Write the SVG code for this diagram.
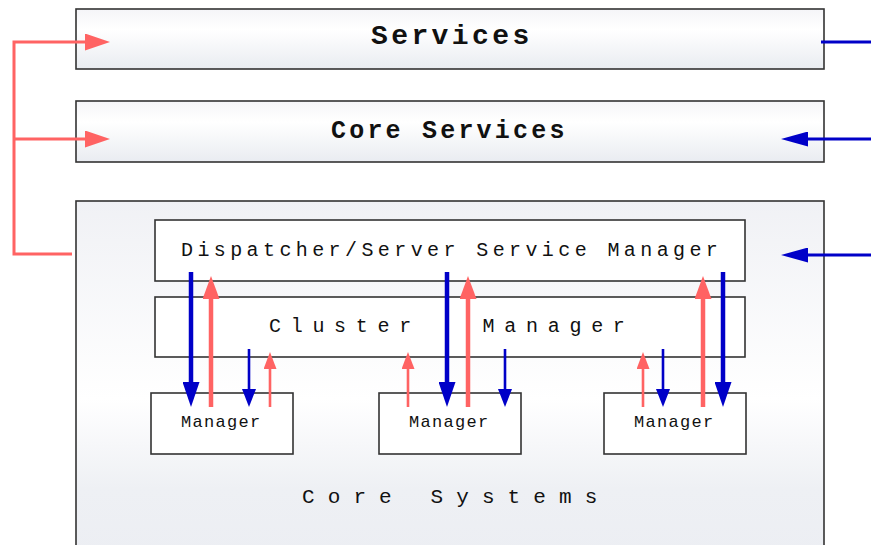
<svg xmlns="http://www.w3.org/2000/svg" width="871" height="545" viewBox="0 0 871 545">
  <style>
    .layer { stroke: #333; stroke-width: 1.6; }
    .inner { fill: #fff; stroke: #333; stroke-width: 1.6; }
    .t { font-family: "Liberation Mono", "Courier New", monospace; fill: #111; }
    .mgr { font-size: 17px; letter-spacing: 1.3px; }
    .red { stroke: #ff6363; fill: none; }
    .blue { stroke: #0000c8; fill: none; }
    .thick { stroke-width: 4.5; }
    .thin { stroke-width: 2.6; }
  </style>
  <defs>
    <linearGradient id="gBand" x1="0" y1="0" x2="0" y2="1">
      <stop offset="0" stop-color="#f5f5f8"/>
      <stop offset="0.35" stop-color="#ffffff"/>
      <stop offset="1" stop-color="#e9ecf1"/>
    </linearGradient>
    <linearGradient id="gCore" x1="0" y1="0" x2="0" y2="1">
      <stop offset="0" stop-color="#f0f1f5"/>
      <stop offset="0.55" stop-color="#ffffff"/>
      <stop offset="0.8" stop-color="#eef0f4"/>
      <stop offset="1" stop-color="#eceef3"/>
    </linearGradient>
    <marker id="hBlueBig" markerUnits="userSpaceOnUse" markerWidth="25" markerHeight="17" refX="0" refY="8.5" orient="auto">
      <path d="M0,0 L25,8.5 L0,17 z" fill="#0000c8"/>
    </marker>
    <marker id="hRedBig" markerUnits="userSpaceOnUse" markerWidth="23" markerHeight="17" refX="0" refY="8.5" orient="auto">
      <path d="M0,0 L23,8.5 L0,17 z" fill="#ff6363"/>
    </marker>
    <marker id="hBlueSmall" markerUnits="userSpaceOnUse" markerWidth="18" markerHeight="14" refX="0" refY="7" orient="auto">
      <path d="M0,0 L18,7 L0,14 z" fill="#0000c8"/>
    </marker>
    <marker id="hRedSmall" markerUnits="userSpaceOnUse" markerWidth="17" markerHeight="13" refX="0" refY="6.5" orient="auto">
      <path d="M0,0 L17,6.5 L0,13 z" fill="#ff6363"/>
    </marker>
    <marker id="hRedSide" markerUnits="userSpaceOnUse" markerWidth="25" markerHeight="17" refX="0" refY="8.5" orient="auto">
      <path d="M0,0 L25,8.5 L0,17 z" fill="#ff6363"/>
    </marker>
    <marker id="hBlueSide" markerUnits="userSpaceOnUse" markerWidth="27" markerHeight="15" refX="0" refY="7.5" orient="auto">
      <path d="M0,0 L27,7.5 L0,15 z" fill="#0000c8"/>
    </marker>
  </defs>

  <rect width="871" height="545" fill="#ffffff"/>

  <!-- layer bands -->
  <g id="services">
    <rect class="layer" x="76" y="9" width="748" height="60" fill="url(#gBand)"/>
    <text class="t" x="371" y="44" font-size="28" font-weight="bold" letter-spacing="3.4">Services</text>
  </g>
  <g id="core-services">
    <rect class="layer" x="76" y="101" width="748" height="61" fill="url(#gBand)"/>
    <text class="t" x="331" y="138" font-size="25" font-weight="bold" letter-spacing="3.2">Core Services</text>
  </g>
  <g id="core-systems">
    <rect class="layer" x="76" y="201" width="748" height="360" fill="url(#gCore)"/>
    <text class="t" x="302" y="503" font-size="21" letter-spacing="13.1">Core Systems</text>
  </g>

  <!-- components inside Core Systems -->
  <g id="dispatcher">
    <rect class="inner" x="155" y="220" width="590" height="61"/>
    <text class="t" x="181" y="256" font-size="20" letter-spacing="4.4">Dispatcher/Server Service Manager</text>
  </g>
  <g id="cluster-manager">
    <rect class="inner" x="155" y="297" width="590" height="60"/>
    <text class="t" x="269" y="332" font-size="20" letter-spacing="9.7" word-spacing="40">Cluster Manager</text>
  </g>
  <g id="manager-1">
    <rect class="inner" x="151" y="393" width="142" height="61"/>
    <text class="t mgr" x="181" y="427">Manager</text>
  </g>
  <g id="manager-2">
    <rect class="inner" x="379" y="393" width="142" height="61"/>
    <text class="t mgr" x="409" y="427">Manager</text>
  </g>
  <g id="manager-3">
    <rect class="inner" x="604" y="393" width="142" height="61"/>
    <text class="t mgr" x="634" y="427">Manager</text>
  </g>

  <!-- connectors -->
  <g id="connectors">
    <!-- left feed into the upper layers -->
    <path class="red" stroke-width="3" d="M72,254 H14 V42 H85" marker-end="url(#hRedSide)"/>
    <path class="red" stroke-width="3" d="M14,139 H85" marker-end="url(#hRedSide)"/>

    <!-- right-hand inputs -->
    <path class="blue" stroke-width="3" d="M821,42 H871"/>
    <path class="blue" stroke-width="3" d="M871,139 H808" marker-end="url(#hBlueSide)"/>
    <path class="blue" stroke-width="3" d="M871,255 H808" marker-end="url(#hBlueSide)"/>

    <!-- manager 1 -->
    <path class="blue thick" d="M191,272 V382" marker-end="url(#hBlueBig)"/>
    <path class="red thick" d="M211,407 V299" marker-end="url(#hRedBig)"/>
    <path class="blue thin" d="M249,349 V389" marker-end="url(#hBlueSmall)"/>
    <path class="red thin" d="M270,407 V369" marker-end="url(#hRedSmall)"/>

    <!-- manager 2 -->
    <path class="red thin" d="M408,407 V369" marker-end="url(#hRedSmall)"/>
    <path class="blue thick" d="M447,272 V382" marker-end="url(#hBlueBig)"/>
    <path class="red thick" d="M468,407 V299" marker-end="url(#hRedBig)"/>
    <path class="blue thin" d="M505,349 V389" marker-end="url(#hBlueSmall)"/>

    <!-- manager 3 -->
    <path class="red thin" d="M643,407 V369" marker-end="url(#hRedSmall)"/>
    <path class="blue thin" d="M663,349 V389" marker-end="url(#hBlueSmall)"/>
    <path class="red thick" d="M703,407 V299" marker-end="url(#hRedBig)"/>
    <path class="blue thick" d="M723,272 V382" marker-end="url(#hBlueBig)"/>
  </g>
</svg>
